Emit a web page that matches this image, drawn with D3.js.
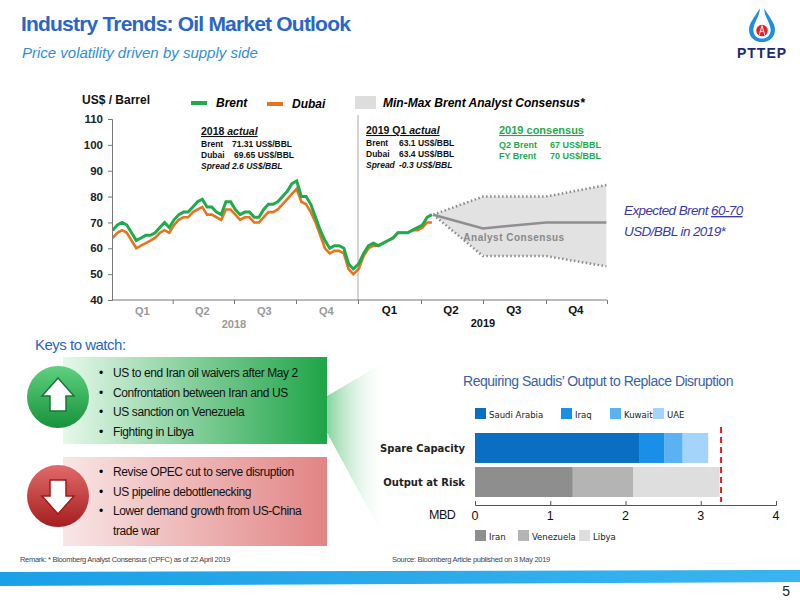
<!DOCTYPE html>
<html><head><meta charset="utf-8">
<script src="https://cdn.jsdelivr.net/npm/d3@7"></script>
<style>body{margin:0;background:#fff}svg{font-family:"Liberation Sans",Arial,sans-serif}</style>
</head><body><svg id="c" width="800" height="600"></svg>
<script>
// ---- data ----
const brent2018 = [67,69,70,69, 66,63,64,65, 65,66,68,70, 68,71,73,74,74, 76,78,79,76, 76,74,73,78, 78,75,73,74,74, 72,72,75,77, 77,78,80,82, 85,86,80,80,77, 72,67,63,60, 61,61,60,54,52];
const dubai2018 = [64,66,67,66, 63,60,61,62, 63,64,66,67, 66,69,71,72,72, 74,75,76,73, 73,72,71,75, 75,73,71,72,72, 70,70,72,74, 74,75,77,79, 81,83,78,77,74, 70,65,60,58, 59,59,58,52,50];
const brent2019 = [54,58,61,62,61,62,63,64,66,66,66,67,68,69,72,73];
const dubai2019 = [52,57,60,61,61,62,63,64,66,66,66,67,67,68,70,70];
const forecastDates = ["2019-04-19","2019-07-01","2019-10-01","2019-12-31"];
const consensus = [73,67.7,70,70];
const bandMax = [73,80,80,84.5];
const bandMin = [73,57,57,53];
const quarters = ["Q1","Q2","Q3","Q4"];
const yTicks = [40,50,60,70,80,90,100,110];
const spareCats = ["Saudi Arabia","Iraq","Kuwait","UAE"];
const spareVals = [2.19,0.33,0.24,0.34];
const riskCats = ["Iran","Venezuela","Libya"];
const riskVals = [1.3,0.8,1.15];
const riskLine = 3.27;
const upKeys = ["US to end Iran oil waivers after May 2","Confrontation between Iran and US","US sanction on Venezuela","Fighting in Libya"];
const downKeys = ["Revise OPEC cut to serve disruption","US pipeline debottlenecking","Lower demand growth from US-China","trade war"];

const svg = d3.select("#c");
const defs = svg.append("defs");
function lg(id, stops, x2="100%", y2="0%"){const g=defs.append("linearGradient").attr("id",id).attr("x1","0%").attr("y1","0%").attr("x2",x2).attr("y2",y2);stops.forEach(s=>g.append("stop").attr("offset",s[0]).attr("stop-color",s[1]).attr("stop-opacity",s[2]==null?1:s[2]));}
lg("gBox",[["0%","#e6f8ea"],["100%","#1ea447"]]);
lg("rBox",[["0%","#f9e6e6"],["100%","#e28484"]]);
lg("fan",[["0%","#2fb457",0.9],["100%","#ffffff",0]]);
lg("strip",[["0%","#1aa0e6"],["100%","#3ab4f0"]]);
lg("gCirc",[["0%","#5fd07f"],["100%","#17923b"]],"0%","100%");
lg("rCirc",[["0%","#e26a6a"],["100%","#a51e1e"]],"0%","100%");

// header
svg.append("text").attr("x",21).attr("y",31).attr("font-size",21).attr("font-weight","bold").attr("fill","#2a66c6").attr("letter-spacing",-0.8).text("Industry Trends: Oil Market Outlook");
svg.append("text").attr("x",22).attr("y",58).attr("font-size",15).attr("font-style","italic").attr("fill","#2f8fd6").text("Price volatility driven by supply side");
const lgG = svg.append("g").attr("transform","translate(762,27) scale(0.72) translate(-759,-36)");
lgG.append("path").attr("d","M756,10 C748,24 741,30 741,40 C741,50 749,57 759,57 C769,57 777,50 777,40 C777,30 770,24 762,10 C762,22 771,30 771,40 C771,47 766,52 759,52 C752,52 747,47 747,40 C747,30 756,22 756,10Z").attr("fill","#1e90d8");
lgG.append("circle").attr("cx",759).attr("cy",41).attr("r",8).attr("fill","#d8262e");
lgG.append("path").attr("d","M759,34 L755,48 M759,34 L763,48 M756,42 L762,42").attr("stroke","#fff").attr("stroke-width",1.2);
svg.append("text").attr("x",762).attr("y",58).attr("text-anchor","middle").attr("font-size",14).attr("font-weight","bold").attr("fill","#1c2a6e").attr("letter-spacing",1).text("PTTEP");

// ---- main chart ----
const x = d3.scaleTime().domain([new Date(2018,0,1),new Date(2019,0,1),new Date(2019,3,1),new Date(2019,6,1),new Date(2019,9,1),new Date(2020,0,1)]).range([112,358,421,483,546,607]);
const y = d3.scaleLinear().domain([40,110]).range([300,119]);
const wk = (yr,i)=>d3.timeDay.offset(new Date(yr,0,2),i*7);
const b = brent2018.map((v,i)=>[wk(2018,i),v]).concat(brent2019.map((v,i)=>[wk(2019,i),v]));
const d = dubai2018.map((v,i)=>[wk(2018,i),v]).concat(dubai2019.map((v,i)=>[wk(2019,i),v]));
const fc = forecastDates.map(s=>new Date(s));

const area = d3.area().x((v,i)=>x(fc[i])).y0((v,i)=>y(bandMin[i])).y1((v,i)=>y(bandMax[i]));
svg.append("path").datum(bandMax).attr("d",area).attr("fill","#e2e2e2");
const ln = arr=>d3.line().x((v,i)=>x(fc[i])).y(v=>y(v))(arr);
[bandMax,bandMin].forEach(a=>svg.append("path").attr("d",ln(a)).attr("fill","none").attr("stroke","#8a8a8a").attr("stroke-width",2.5).attr("stroke-dasharray","1.5,2.5"));
svg.append("path").attr("d",ln(consensus)).attr("fill","none").attr("stroke","#8f8f8f").attr("stroke-width",2.5);
svg.append("text").attr("x",514).attr("y",241).attr("text-anchor","middle").attr("font-size",10).attr("font-weight","bold").attr("fill","#888").attr("letter-spacing",0.5).text("Analyst Consensus");

svg.append("line").attr("x1",358).attr("x2",358).attr("y1",115).attr("y2",300).attr("stroke","#aaa").attr("stroke-width",1);

const line = d3.line().x(p=>x(p[0])).y(p=>y(p[1]));
svg.append("path").attr("d",line(d)).attr("fill","none").attr("stroke","#e8731e").attr("stroke-width",2.6);
svg.append("path").attr("d",line(b)).attr("fill","none").attr("stroke","#1faa4c").attr("stroke-width",3);

const ya = svg.append("g").attr("transform","translate(112,0)").call(d3.axisLeft(y).tickValues(yTicks).tickSize(4));
ya.selectAll("text").attr("font-size",11.5).attr("font-weight","bold").attr("fill","#222").attr("x",-9);
ya.selectAll("line,path").attr("stroke","#777");
const xa = svg.append("g").attr("transform","translate(0,300)").call(d3.axisBottom(x).tickValues([new Date(2018,3,1),new Date(2018,6,1),new Date(2018,9,1),new Date(2019,0,1),new Date(2019,3,1),new Date(2019,6,1),new Date(2019,9,1),new Date(2020,0,1)]).tickSize(4).tickFormat(""));
xa.selectAll("line,path").attr("stroke","#777");
xa.select(".domain").attr("d","M112,0H607");
quarters.forEach((q,i)=>{
  svg.append("text").attr("x",x(new Date(2018,i*3+1,15))).attr("y",315).attr("text-anchor","middle").attr("font-size",11).attr("font-weight","bold").attr("fill","#999").text(q);
  svg.append("text").attr("x",x(new Date(2019,i*3+1,15))).attr("y",314).attr("text-anchor","middle").attr("font-size",11.5).attr("font-weight","bold").attr("fill","#111").text(q);
});
svg.append("text").attr("x",x(new Date(2018,6,1))).attr("y",328).attr("text-anchor","middle").attr("font-size",11).attr("font-weight","bold").attr("fill","#999").text("2018");
svg.append("text").attr("x",x(new Date(2019,6,1))).attr("y",327).attr("text-anchor","middle").attr("font-size",11).attr("font-weight","bold").attr("fill","#111").text("2019");

svg.append("text").attr("x",82).attr("y",104).attr("font-size",12).attr("font-weight","bold").attr("fill","#111").text("US$ / Barrel");
svg.append("line").attr("x1",191).attr("x2",207).attr("y1",103).attr("y2",103).attr("stroke","#1faa4c").attr("stroke-width",4);
svg.append("text").attr("x",216).attr("y",107).attr("font-size",12).attr("font-weight","bold").attr("font-style","italic").text("Brent");
svg.append("line").attr("x1",267).attr("x2",283).attr("y1",104).attr("y2",104).attr("stroke","#e8731e").attr("stroke-width",4);
svg.append("text").attr("x",292).attr("y",108).attr("font-size",12).attr("font-weight","bold").attr("font-style","italic").text("Dubai");
svg.append("rect").attr("x",355).attr("y",96).attr("width",21).attr("height",13).attr("fill","#ddd");
svg.append("text").attr("x",383).attr("y",107).attr("font-size",12).attr("font-weight","bold").attr("font-style","italic").text("Min-Max Brent Analyst Consensus*");

function block(x0,y0,title,rows,col){
  svg.append("text").attr("x",x0).attr("y",y0).attr("font-size",10.5).attr("font-weight","bold").attr("fill",col).attr("text-decoration","underline").html(title);
  rows.forEach((r,i)=>{svg.append("text").attr("x",x0).attr("y",y0+12+i*11).attr("font-size",8.5).attr("font-weight","bold").attr("fill",col).attr("font-style",r[2]?"italic":"normal").text(r[0]);
    svg.append("text").attr("x",x0+r[3]).attr("y",y0+12+i*11).attr("font-size",8.5).attr("font-weight","bold").attr("fill",col).attr("font-style",r[2]?"italic":"normal").text(r[1]);});
}
block(201,135,'2018 <tspan font-style="italic">actual</tspan>',[["Brent","71.31 US$/BBL",0,31],["Dubai","69.65 US$/BBL",0,33],["Spread","2.6  US$/BBL",1,31]],"#111");
block(366,134,'2019 Q1 <tspan font-style="italic">actual</tspan>',[["Brent","63.1 US$/BBL",0,33],["Dubai","63.4 US$/BBL",0,33],["Spread","-0.3  US$/BBL",1,33]],"#111");
svg.append("text").attr("x",499).attr("y",134).attr("font-size",11).attr("font-weight","bold").attr("fill","#1faa4c").attr("text-decoration","underline").text("2019 consensus");
[["Q2 Brent","67 US$/BBL"],["FY Brent","70 US$/BBL"]].forEach((r,i)=>{svg.append("text").attr("x",499).attr("y",148+i*10.5).attr("font-size",9).attr("font-weight","bold").attr("fill","#1faa4c").text(r[0]);svg.append("text").attr("x",550).attr("y",148+i*10.5).attr("font-size",9).attr("font-weight","bold").attr("fill","#1faa4c").text(r[1]);});
svg.append("text").attr("x",624).attr("y",215).attr("font-size",13.5).attr("font-style","italic").attr("fill","#3a3aa8").attr("letter-spacing",-0.6).html('Expected Brent <tspan text-decoration="underline">60-70</tspan>');
svg.append("text").attr("x",624).attr("y",236).attr("font-size",13.5).attr("font-style","italic").attr("fill","#3a3aa8").attr("letter-spacing",-0.6).text("USD/BBL in 2019*");

// ---- keys ----
svg.append("text").attr("x",35).attr("y",350).attr("font-size",15).attr("fill","#2a66c6").attr("letter-spacing",-0.5).text("Keys to watch:");
svg.append("path").attr("d","M312,405 L388,360 L388,545 Z").attr("fill","url(#fan)");
svg.append("rect").attr("x",63).attr("y",357).attr("width",264).attr("height",87).attr("fill","url(#gBox)");
svg.append("rect").attr("x",63).attr("y",457).attr("width",264).attr("height",89).attr("fill","url(#rBox)");
svg.append("circle").attr("cx",58).attr("cy",397).attr("r",31).attr("fill","url(#gCirc)");
svg.append("path").attr("d","M58,378 L74,396 L66,396 L66,411 L50,411 L50,396 L42,396 Z").attr("fill","#fff").attr("stroke","#137a33").attr("stroke-width",1.5);
svg.append("circle").attr("cx",58).attr("cy",496).attr("r",31).attr("fill","url(#rCirc)");
svg.append("path").attr("d","M58,514 L74,496 L66,496 L66,480 L50,480 L50,496 L42,496 Z").attr("fill","#fff").attr("stroke","#a31818").attr("stroke-width",1.5);
upKeys.forEach((t,i)=>{svg.append("text").attr("x",99).attr("y",377+i*19.5).attr("font-size",12).text("•");svg.append("text").attr("x",113).attr("y",377+i*19.5).attr("font-size",12).attr("letter-spacing",-0.4).attr("fill","#111").text(t);});
downKeys.forEach((t,i)=>{if(i<3)svg.append("text").attr("x",99).attr("y",476+i*19.5).attr("font-size",12).text("•");svg.append("text").attr("x",113).attr("y",476+i*19.5).attr("font-size",12).attr("letter-spacing",-0.4).attr("fill","#111").text(t);});

// ---- bar chart ----
svg.append("text").attr("x",598).attr("y",386).attr("text-anchor","middle").attr("font-size",14).attr("fill","#3a62a8").attr("letter-spacing",-0.5).text("Requiring Saudis’ Output to Replace Disruption");
const bx = d3.scaleLinear().domain([0,4]).range([475,776]);
const by = d3.scaleBand().domain(["Spare Capacity","Output at Risk"]).range([433,497]).paddingInner(0.12);
const blue = ["#0a6fc2","#1a8fe8","#5ab2f2","#a4d4fa"], gray = ["#8e8e8e","#b4b4b4","#dedede"];
function stack(cat,vals,cols){let acc=0;vals.forEach((v,i)=>{svg.append("rect").attr("x",bx(acc)).attr("width",bx(acc+v)-bx(acc)).attr("y",by(cat)).attr("height",by.bandwidth()).attr("fill",cols[i]);acc+=v;});}
stack("Spare Capacity",spareVals,blue);
stack("Output at Risk",riskVals,gray);
by.domain().forEach(c=>svg.append("text").attr("x",465).attr("y",by(c)+by.bandwidth()/2+4).attr("text-anchor","end").attr("font-family","'DejaVu Sans'").attr("font-size",10).attr("font-weight","bold").attr("fill","#222").text(c));
svg.append("line").attr("x1",bx(riskLine)).attr("x2",bx(riskLine)).attr("y1",427).attr("y2",502).attr("stroke","#e02020").attr("stroke-width",2).attr("stroke-dasharray","6,4");
const bxa = svg.append("g").attr("transform","translate(0,505)").call(d3.axisTop(bx).ticks(4).tickSize(4).tickFormat(""));
bxa.selectAll("line,path").attr("stroke","#555");
bx.ticks(4).forEach(t=>svg.append("text").attr("x",bx(t)).attr("y",520).attr("text-anchor","middle").attr("font-size",12.5).attr("fill","#111").text(t));
svg.append("text").attr("x",429).attr("y",519).attr("font-size",12.5).attr("fill","#111").attr("letter-spacing",-0.5).text("MBD");
[[spareCats,blue,418,[475,561,610,653]],[riskCats,gray,540,[475,518,579]]].forEach(([cats,cols,yy,xs])=>cats.forEach((c,i)=>{svg.append("rect").attr("x",xs[i]).attr("y",yy-10).attr("width",11).attr("height",11).attr("fill",cols[i]);svg.append("text").attr("x",xs[i]+14).attr("y",yy).attr("font-family","'DejaVu Sans Condensed','DejaVu Sans'").attr("font-size",9.5).attr("fill","#222").text(c);}));

// footer
svg.append("text").attr("x",20).attr("y",562).attr("font-size",7.5).attr("fill","#444").attr("letter-spacing",-0.3).text("Remark: * Bloomberg Analyst Consensus (CPFC) as of  22 April 2019");
svg.append("text").attr("x",392).attr("y",562).attr("font-size",7.5).attr("fill","#444").attr("letter-spacing",-0.3).text("Source: Bloomberg Article published on 3 May 2019");
svg.append("path").attr("d","M0,572 L800,570 L800,582 L0,586 Z").attr("fill","url(#strip)");
svg.append("text").attr("x",790).attr("y",596).attr("text-anchor","end").attr("font-size",14).attr("fill","#222").text("5");
</script></body></html>
